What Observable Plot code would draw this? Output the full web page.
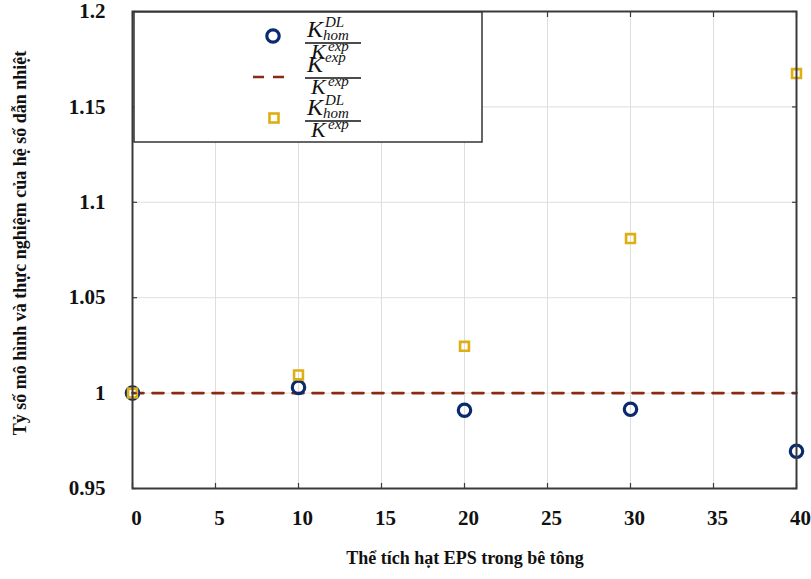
<!DOCTYPE html>
<html>
<head>
<meta charset="utf-8">
<script src="https://cdn.jsdelivr.net/npm/d3@7"></script>
<script src="https://cdn.jsdelivr.net/npm/@observablehq/plot@0.6"></script>
<style>
  html, body { margin: 0; padding: 0; background: #fff; }
  #wrap { position: relative; width: 811px; height: 579px; }
  #legend { position: absolute; left: 133px; top: 11px; }
</style>
</head>
<body>
<div id="wrap"></div>
<script>
// ---- data ----
const eps = [0, 10, 20, 30, 40];                          // Thể tích hạt EPS (%)
const ratioDL = [1.000, 1.003, 0.991, 0.9915, 0.9695];     // K_hom^DL / K^exp (circles)
const ratioExp = [1, 1, 1, 1, 1];                          // K^exp / K^exp (dashed)
const ratioHom = [1.000, 1.0095, 1.0245, 1.081, 1.1675];   // K_hom^DL / K^exp (squares)
const xTicks = [0, 5, 10, 15, 20, 25, 30, 35, 40];
const yTicks = [0.95, 1, 1.05, 1.1, 1.15, 1.2];
const yTickLabels = ["0.95", "1", "1.05", "1.1", "1.15", "1.2"];
const xTitle = "Thể tích hạt EPS trong bê tông";
const yTitle = "Tỷ số mô hình và thực nghiệm của hệ số dẫn nhiệt";

const colCircle = "#0a2a6e";
const colDash = "#8a2a12";
const colSquare = "#dfae12";

const dl = eps.map((x, i) => ({x, y: ratioDL[i]}));
const ex = eps.map((x, i) => ({x, y: ratioExp[i]}));
const hm = eps.map((x, i) => ({x, y: ratioHom[i]}));

const font = "Liberation Serif, Times New Roman, serif";
const tickStyle = {stroke: "#3a3a3a", strokeWidth: 1.2};

const chart = Plot.plot({
  width: 811,
  height: 579,
  marginLeft: 132,
  marginRight: 15,
  marginTop: 11,
  marginBottom: 91,
  style: {fontFamily: font, background: "#fff", overflow: "visible"},
  x: {type: "linear", domain: [0, 40]},
  y: {type: "linear", domain: [0.95, 1.2]},
  marks: [
    Plot.gridX(xTicks, {stroke: "#dedede", strokeOpacity: 1, strokeWidth: 1}),
    Plot.gridY(yTicks, {stroke: "#dedede", strokeOpacity: 1, strokeWidth: 1}),
    Plot.lineY(ex, {x: "x", y: "y", stroke: colDash, strokeWidth: 2.6, strokeDasharray: "11,9"}),
    Plot.dot(dl, {x: "x", y: "y", symbol: "circle", r: 6.2, stroke: colCircle, strokeWidth: 3.2, fill: "none"}),
    Plot.dot(hm, {x: "x", y: "y", symbol: "square", r: 5.0, stroke: colSquare, strokeWidth: 2.6, fill: "none"}),
    Plot.frame({stroke: "#3a3a3a", strokeWidth: 2}),
    // inward ticks on all four sides
    Plot.axisX(xTicks, {anchor: "bottom", tickSize: -5, tickFormat: () => "", label: null, ...tickStyle}),
    Plot.axisX(xTicks, {anchor: "top", tickSize: -5, tickFormat: () => "", label: null, ...tickStyle}),
    Plot.axisY(yTicks, {anchor: "left", tickSize: -5, tickFormat: () => "", label: null, ...tickStyle}),
    Plot.axisY(yTicks, {anchor: "right", tickSize: -5, tickFormat: () => "", label: null, ...tickStyle}),
    // tick labels
    Plot.axisX(xTicks, {anchor: "bottom", tickSize: 0, tickPadding: 22, dx: 4, fontSize: 21, fontWeight: "bold", fill: "#111", label: null}),
    Plot.axisY(yTicks, {anchor: "left", tickSize: 0, tickPadding: 27, fontSize: 21, fontWeight: "bold", fill: "#111", label: null,
      tickFormat: (d) => yTickLabels[yTicks.indexOf(d)]}),
  ]
});

const wrap = document.getElementById("wrap");
chart.style.position = "absolute";
chart.style.left = "0px";
chart.style.top = "0px";
wrap.appendChild(chart);

// axis titles
const svg = d3.select(chart);
svg.append("text")
  .attr("x", 465).attr("y", 564)
  .attr("text-anchor", "middle")
  .attr("font-family", font).attr("font-weight", "bold").attr("font-size", 18)
  .attr("fill", "#111")
  .text(xTitle);
svg.append("text")
  .attr("transform", "translate(26,243) rotate(-90)")
  .attr("text-anchor", "middle")
  .attr("font-family", font).attr("font-weight", "bold").attr("font-size", 18)
  .attr("fill", "#111")
  .text(yTitle);

// legend (drawn as a small svg over the plot)
const LW = 348, LH = 130;
const leg = d3.create("svg").attr("id", "legend").attr("width", LW + 2).attr("height", LH + 2);
wrap.appendChild(leg.node());
const g = leg.append("g").attr("transform", "translate(1,1)");
g.append("rect").attr("width", LW).attr("height", LH).attr("fill", "#fff").attr("stroke", "#333").attr("stroke-width", 1.5);

const mathFont = "Liberation Serif, DejaVu Serif, serif";
function frac(bar, numSup, numSub) {
  const fx = 171;
  const t = g.append("g").attr("font-family", mathFont).attr("font-style", "italic").attr("fill", "#111");
  // numerator
  t.append("text").attr("x", fx + 2).attr("y", bar - 6).attr("font-size", 24).text("K");
  t.append("text").attr("x", fx + 20).attr("y", bar - 16).attr("font-size", 15).text(numSup);
  if (numSub) t.append("text").attr("x", fx + 18).attr("y", bar - 3).attr("font-size", 15).text(numSub);
  // bar
  g.append("line").attr("x1", fx).attr("x2", fx + 56).attr("y1", bar).attr("y2", bar).attr("stroke", "#111").attr("stroke-width", 1.5);
  // denominator
  t.append("text").attr("x", fx + 6).attr("y", bar + 16).attr("font-size", 22).text("K");
  t.append("text").attr("x", fx + 23).attr("y", bar + 8).attr("font-size", 15).text("exp");
}
// row 1: circle
g.append("circle").attr("cx", 139).attr("cy", 24).attr("r", 6.2).attr("fill", "none").attr("stroke", colCircle).attr("stroke-width", 3.2);
frac(31, "DL", "hom");
// row 2: dashed line
g.append("line").attr("x1", 119).attr("x2", 155).attr("y1", 65).attr("y2", 65).attr("stroke", colDash).attr("stroke-width", 2.6).attr("stroke-dasharray", "11,9");
frac(66, "exp", null);
// row 3: square
g.append("rect").attr("x", 135.5).attr("y", 101.5).attr("width", 9).attr("height", 9).attr("fill", "none").attr("stroke", colSquare).attr("stroke-width", 2.6);
frac(109, "DL", "hom");
</script>
</body>
</html>
